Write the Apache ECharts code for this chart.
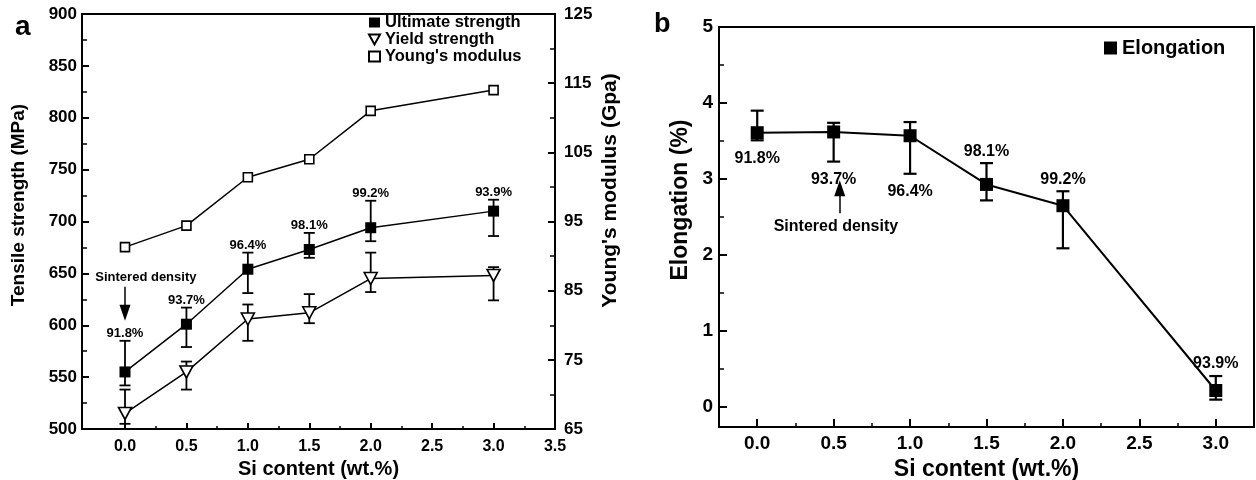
<!DOCTYPE html>
<html>
<head>
<meta charset="utf-8">
<script src="https://cdn.jsdelivr.net/npm/echarts@6/dist/echarts.min.js"></script>
<style>
  html, body { margin: 0; padding: 0; background: #fff; }
  #chart { width: 1256px; height: 480px; }
</style>
</head>
<body>
<div id="chart"></div>
<script>
// panel a: tensile properties vs Si content
const siContent = [0, 0.5, 1.0, 1.5, 2.0, 3.0]
const ultimate = [555, 601, 654, 673, 694, 710]
const ultimateLow = [542, 579, 631, 665, 681, 686]
const ultimateHigh = [585, 617, 670, 689, 720, 721]
const yieldStrength = [515, 555, 606, 612, 645, 648]
const yieldLow = [505, 538, 585, 602, 632, 624]
const yieldHigh = [538, 565, 620, 630, 670, 656]
const youngs = [91.3, 94.4, 101.4, 104.0, 111.0, 114.0]
const densities = ['91.8%', '93.7%', '96.4%', '98.1%', '99.2%', '93.9%']

// panel b: elongation
const elongation = [3.61, 3.62, 3.57, 2.93, 2.65, 0.22]
const elongLow = [3.51, 3.23, 3.07, 2.72, 2.09, 0.1]
const elongHigh = [3.9, 3.74, 3.75, 3.21, 2.84, 0.41]

// tick labels
const xTicksA = [0, 0.5, 1, 1.5, 2, 2.5, 3, 3.5]
const xMinorA = [0.25, 0.75, 1.25, 1.75, 2.25, 2.75, 3.25]
const modulusTicks = [65, 75, 85, 95, 105, 115, 125]
const modulusMinor = [70, 80, 90, 100, 110, 120]
const xTicksB = [0, 0.5, 1, 1.5, 2, 2.5, 3]
const xMinorB = [0.25, 0.75, 1.25, 1.75, 2.25, 2.75]
const elongTicks = [0, 1, 2, 3, 4, 5]
const elongMinor = [0.5, 1.5, 2.5, 3.5, 4.5]

const FONT = 'Liberation Sans, Arial, sans-serif'
const downTri = 'path://M0,0L10,0L5,9Z'

const zip = (xs, ys) => xs.map((x, i) => [x, ys[i]])

// error bars (and density labels) through the axes' own scale
function errorBars(xAxisIndex, yAxisIndex, lo, hi, opts) {
  return {
    type: 'custom',
    xAxisIndex,
    yAxisIndex,
    z: 1,
    silent: true,
    animation: false,
    data: siContent.map((x, i) => [x, lo[i], hi[i]]),
    renderItem(params, api) {
      const x = api.value(0)
      const top = api.coord([x, api.value(2)])
      const bot = api.coord([x, api.value(1)])
      const h = opts.cap / 2
      const st = { stroke: '#000', lineWidth: opts.lw }
      const children = [
        { type: 'line', shape: { x1: top[0], y1: top[1], x2: bot[0], y2: bot[1] }, style: st },
        { type: 'line', shape: { x1: top[0] - h, y1: top[1], x2: top[0] + h, y2: top[1] }, style: st },
        { type: 'line', shape: { x1: bot[0] - h, y1: bot[1], x2: bot[0] + h, y2: bot[1] }, style: st },
      ]
      if (opts.labels) {
        const below = opts.below && opts.below[params.dataIndex]
        children.push({
          type: 'text',
          x: top[0],
          y: below ? bot[1] + opts.gapBelow : top[1] - opts.gapAbove,
          style: {
            text: opts.labels[params.dataIndex],
            font: opts.font,
            fill: '#000',
            align: 'center',
            verticalAlign: below ? 'top' : 'bottom',
          },
        })
      }
      return { type: 'group', children }
    },
  }
}

const axisLabelA = { color: '#000', fontFamily: FONT, fontWeight: 'bold', fontSize: 16 }
const axisLabelB = { color: '#000', fontFamily: FONT, fontWeight: 'bold', fontSize: 19 }
const blackLine = { show: true, onZero: false, lineStyle: { color: '#000', width: 2 } }
const noLine = { show: false, onZero: false }

const chart = echarts.init(document.getElementById('chart'), null, { renderer: 'canvas' })
chart.setOption({
  animation: false,
  backgroundColor: '#fff',
  textStyle: { fontFamily: FONT },
  graphic: [
    { type: 'text', x: 15, y: 41, style: { text: 'a', font: 'bold 28px ' + FONT, fill: '#000', verticalAlign: 'bottom' } },
    { type: 'text', x: 654, y: 38, style: { text: 'b', font: 'bold 27px ' + FONT, fill: '#000', verticalAlign: 'bottom' } },
  ],
  grid: [
    { left: 82, top: 14, width: 473, height: 415, outerBoundsMode: 'none', show: true, borderColor: '#000', borderWidth: 2 },
    { left: 719, top: 27, width: 535, height: 400, outerBoundsMode: 'none', show: true, borderColor: '#000', borderWidth: 2 },
  ],
  legend: [
    {
      orient: 'vertical',
      left: 368,
      top: 14,
      padding: 0,
      itemWidth: 11,
      itemHeight: 10,
      itemGap: 0,
      textStyle: { color: '#000', fontFamily: FONT, fontWeight: 'bold', fontSize: 16.5, lineHeight: 16.5 },
      data: [
        { name: 'Ultimate strength', icon: 'rect' },
        { name: 'Yield strength', icon: downTri },
        { name: "Young's modulus", icon: 'rect' },
      ],
    },
    {
      left: 1104,
      top: 38,
      padding: 0,
      itemWidth: 13,
      itemHeight: 13,
      textStyle: { color: '#000', fontFamily: FONT, fontWeight: 'bold', fontSize: 20 },
      data: [{ name: 'Elongation', icon: 'rect' }],
    },
  ],
  xAxis: [
    {
      gridIndex: 0, type: 'value', min: -0.35, max: 3.5, position: 'bottom',
      axisLine: blackLine,
      axisTick: { inside: true, length: 6, lineStyle: { color: '#000', width: 2 }, customValues: xTicksA },
      axisLabel: { ...axisLabelA, margin: 10, customValues: xTicksA, formatter: v => v.toFixed(1) },
      splitLine: { show: false },
      name: 'Si content (wt.%)', nameLocation: 'middle', nameGap: 24,
      nameTextStyle: { color: '#000', fontFamily: FONT, fontWeight: 'bold', fontSize: 20 },
    },
    {
      gridIndex: 0, type: 'value', min: -0.35, max: 3.5, position: 'bottom',
      axisLine: noLine,
      axisTick: { inside: true, length: 3, lineStyle: { color: '#000', width: 1.5 }, customValues: xMinorA },
      axisLabel: { show: false },
      splitLine: { show: false },
    },
    {
      gridIndex: 1, type: 'value', min: -0.25, max: 3.25, position: 'bottom',
      axisLine: blackLine,
      axisTick: { inside: true, length: 8, lineStyle: { color: '#000', width: 2 }, customValues: xTicksB },
      axisLabel: { ...axisLabelB, margin: 7, customValues: xTicksB, formatter: v => v.toFixed(1) },
      splitLine: { show: false },
      name: 'Si content (wt.%)', nameLocation: 'middle', nameGap: 25,
      nameTextStyle: { color: '#000', fontFamily: FONT, fontWeight: 'bold', fontSize: 23 },
    },
    {
      gridIndex: 1, type: 'value', min: -0.25, max: 3.25, position: 'bottom',
      axisLine: noLine,
      axisTick: { inside: true, length: 4, lineStyle: { color: '#000', width: 1.5 }, customValues: xMinorB },
      axisLabel: { show: false },
      splitLine: { show: false },
    },
  ],
  yAxis: [
    {
      gridIndex: 0, type: 'value', min: 500, max: 900, interval: 50, position: 'left',
      axisLine: blackLine,
      axisTick: { inside: true, length: 7, lineStyle: { color: '#000', width: 2 } },
      minorTick: { show: true, splitNumber: 2, length: 5, lineStyle: { color: '#000', width: 1.5 } },
      axisLabel: { ...axisLabelA, fontSize: 17, margin: 5 },
      splitLine: { show: false },
      name: 'Tensile strength (MPa)', nameLocation: 'middle', nameGap: 54, nameRotate: 90,
      nameTextStyle: { color: '#000', fontFamily: FONT, fontWeight: 'bold', fontSize: 19, padding: [0, 0, 0, 33] },
    },
    {
      gridIndex: 0, type: 'value', min: 65, max: 125, position: 'right',
      axisLine: blackLine,
      axisTick: { inside: true, length: 7, lineStyle: { color: '#000', width: 2 }, customValues: modulusTicks },
      axisLabel: { ...axisLabelA, fontSize: 17, margin: 9, customValues: modulusTicks },
      splitLine: { show: false },
      name: "Young's modulus (Gpa)", nameLocation: 'middle', nameGap: 45, nameRotate: 90,
      nameTextStyle: { color: '#000', fontFamily: FONT, fontWeight: 'bold', fontSize: 21, padding: [0, 0, 0, 62] },
    },
    {
      gridIndex: 0, type: 'value', min: 65, max: 125, position: 'right',
      axisLine: noLine,
      axisTick: { inside: true, length: 5, lineStyle: { color: '#000', width: 1.5 }, customValues: modulusMinor },
      axisLabel: { show: false },
      splitLine: { show: false },
    },
    {
      gridIndex: 1, type: 'value', min: -0.26, max: 5, position: 'left',
      axisLine: blackLine,
      axisTick: { inside: true, length: 8, lineStyle: { color: '#000', width: 2 }, customValues: elongTicks },
      axisLabel: { ...axisLabelB, margin: 6, customValues: elongTicks },
      splitLine: { show: false },
      name: 'Elongation (%)', nameLocation: 'middle', nameGap: 27, nameRotate: 90,
      nameTextStyle: { color: '#000', fontFamily: FONT, fontWeight: 'bold', fontSize: 23, padding: [0, 0, 0, 54] },
    },
    {
      gridIndex: 1, type: 'value', min: -0.26, max: 5, position: 'left',
      axisLine: noLine,
      axisTick: { inside: true, length: 5, lineStyle: { color: '#000', width: 1.5 }, customValues: elongMinor },
      axisLabel: { show: false },
      splitLine: { show: false },
    },
  ],
  series: [
    errorBars(0, 0, ultimateLow, ultimateHigh, { cap: 11, lw: 1.8, labels: densities, gapAbove: 1, font: 'bold 13px ' + FONT }),
    errorBars(0, 0, yieldLow, yieldHigh, { cap: 11, lw: 1.8 }),
    {
      name: 'Ultimate strength', type: 'line', xAxisIndex: 0, yAxisIndex: 0,
      data: zip(siContent, ultimate),
      symbol: 'rect', symbolSize: 11,
      itemStyle: { color: '#000' },
      lineStyle: { color: '#000', width: 1.5 },
      markLine: {
        silent: true, animation: false,
        symbol: ['none', 'triangle'], symbolSize: [11, 16],
        lineStyle: { color: '#000', width: 1.5, type: 'solid' },
        label: { show: false },
        data: [[{ coord: [0, 637] }, { coord: [0, 612] }]],
      },
      markPoint: {
        silent: true, animation: false,
        symbol: 'circle', symbolSize: 0,
        label: { show: true, position: 'inside', formatter: 'Sintered density', color: '#000', fontFamily: FONT, fontWeight: 'bold', fontSize: 13 },
        data: [{ coord: [0.17, 646] }],
      },
    },
    {
      name: 'Yield strength', type: 'line', xAxisIndex: 0, yAxisIndex: 0,
      data: zip(siContent, yieldStrength),
      symbol: downTri, symbolSize: [13, 12],
      itemStyle: { color: '#fff', borderColor: '#000', borderWidth: 1.6 },
      lineStyle: { color: '#000', width: 1.5 },
    },
    {
      name: "Young's modulus", type: 'line', xAxisIndex: 0, yAxisIndex: 1,
      data: zip(siContent, youngs),
      symbol: 'rect', symbolSize: 9,
      itemStyle: { color: '#fff', borderColor: '#000', borderWidth: 1.6 },
      lineStyle: { color: '#000', width: 1.5 },
    },
    errorBars(2, 3, elongLow, elongHigh, {
      cap: 13, lw: 2.2, labels: densities, gapAbove: 4, gapBelow: 10, font: 'bold 16px ' + FONT,
      below: [true, true, true, false, false, false],
    }),
    {
      name: 'Elongation', type: 'line', xAxisIndex: 2, yAxisIndex: 3,
      data: zip(siContent, elongation),
      symbol: 'rect', symbolSize: 13,
      itemStyle: { color: '#000' },
      lineStyle: { color: '#000', width: 2 },
      markLine: {
        silent: true, animation: false,
        symbol: ['none', 'triangle'], symbolSize: [11, 16],
        lineStyle: { color: '#000', width: 1.5, type: 'solid' },
        label: { show: false },
        data: [[{ coord: [0.54, 2.55] }, { coord: [0.54, 2.88] }]],
      },
      markPoint: {
        silent: true, animation: false,
        symbol: 'circle', symbolSize: 0,
        label: { show: true, position: 'inside', formatter: 'Sintered density', color: '#000', fontFamily: FONT, fontWeight: 'bold', fontSize: 16 },
        data: [{ coord: [0.515, 2.37] }],
      },
    },
  ],
})
</script>
</body>
</html>
